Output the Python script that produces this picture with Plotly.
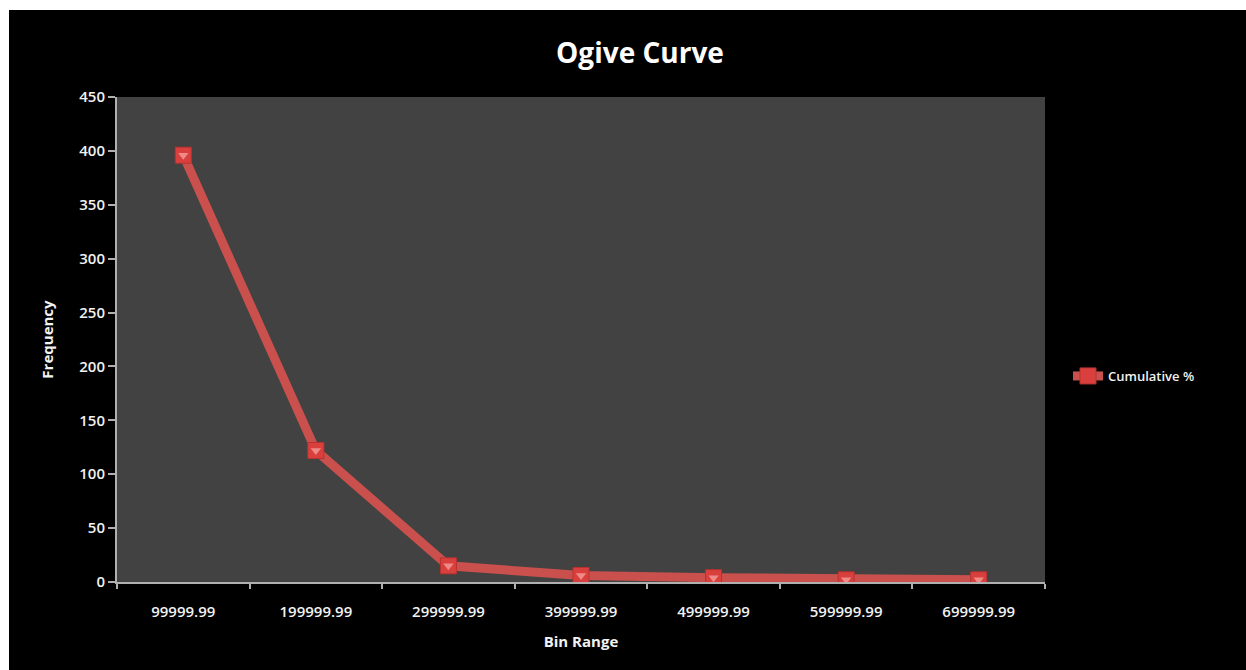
import plotly.graph_objects as go

# Ogive data: bin upper bounds and cumulative frequency
bin_labels = ["99999.99", "199999.99", "299999.99", "399999.99",
              "499999.99", "599999.99", "699999.99"]
cumulative = [396, 122, 15, 6, 4, 2, 2]
series_name = "Cumulative %"

y_ticks = [0, 50, 100, 150, 200, 250, 300, 350, 400, 450]

W, H = 1246, 670
L, R, T, B = 117, 201, 97, 88
FONT = "Open Sans"
TXT = "#f2f2f2"
AXIS = "#b0b0b0"
RED = "#c9504d"

fig = go.Figure()

fig.add_trace(go.Scatter(
    x=bin_labels, y=cumulative, name=series_name, mode="lines+markers",
    line=dict(color=RED, width=9),
    marker=dict(symbol="square", size=16, color="#d9403d",
                line=dict(color="#b8322f", width=1)),
))
# highlight on markers
fig.add_trace(go.Scatter(
    x=bin_labels, y=cumulative, mode="markers", showlegend=False,
    hoverinfo="skip",
    marker=dict(symbol="triangle-down", size=9, color="#f08a86"),
))

pw = W - L - R
ph = H - T - B
# white frame strips along the top and left edges of the page
fig.add_shape(type="rect", xref="paper", yref="paper", layer="above",
              x0=-L / pw, x1=(W - L) / pw, y0=(ph + T - 10) / ph, y1=(ph + T) / ph,
              fillcolor="white", line=dict(width=0))
fig.add_shape(type="rect", xref="paper", yref="paper", layer="above",
              x0=-L / pw, x1=(9 - L) / pw, y0=-B / ph, y1=(ph + T) / ph,
              fillcolor="white", line=dict(width=0))

fig.update_layout(
    width=W, height=H,
    margin=dict(l=L, r=R, t=T, b=B),
    paper_bgcolor="black", plot_bgcolor="#424242",
    font=dict(family=FONT, color=TXT, size=13),
    title=dict(text="<b>Ogive Curve</b>", x=640 / W, xanchor="center",
               y=1 - 53 / H, yanchor="middle",
               font=dict(family=FONT, size=28, color="white")),
    showlegend=True,
    legend=dict(x=(1068 - L) / pw, y=(582 - 376) / ph, xanchor="left",
                yanchor="middle", bgcolor="rgba(0,0,0,0)",
                font=dict(family=FONT, size=13, color=TXT, weight=600),
                itemwidth=30),
    xaxis=dict(
        type="category", range=[-0.5, 6.5], showgrid=False, zeroline=False,
        showline=True, linecolor=AXIS, linewidth=2, mirror=False,
        ticks="outside", tickson="boundaries", ticklen=5, tickcolor=AXIS,
        tickwidth=2, ticklabelstandoff=15,
        tickfont=dict(family=FONT, size=15, color=TXT, weight=600),
        title=dict(text="<b>Bin Range</b>", standoff=16,
                   font=dict(family=FONT, size=15, color=TXT)),
    ),
    yaxis=dict(
        range=[0, 450], tickvals=y_ticks, showgrid=False, zeroline=False,
        showline=True, linecolor=AXIS, linewidth=2,
        ticks="outside", ticklen=7, tickcolor=AXIS, tickwidth=2,
        tickfont=dict(family=FONT, size=15, color=TXT, weight=600),
        title=dict(text="<b>Frequency</b>", standoff=22,
                   font=dict(family=FONT, size=15, color=TXT)),
    ),
)

fig.write_html("out.html")
